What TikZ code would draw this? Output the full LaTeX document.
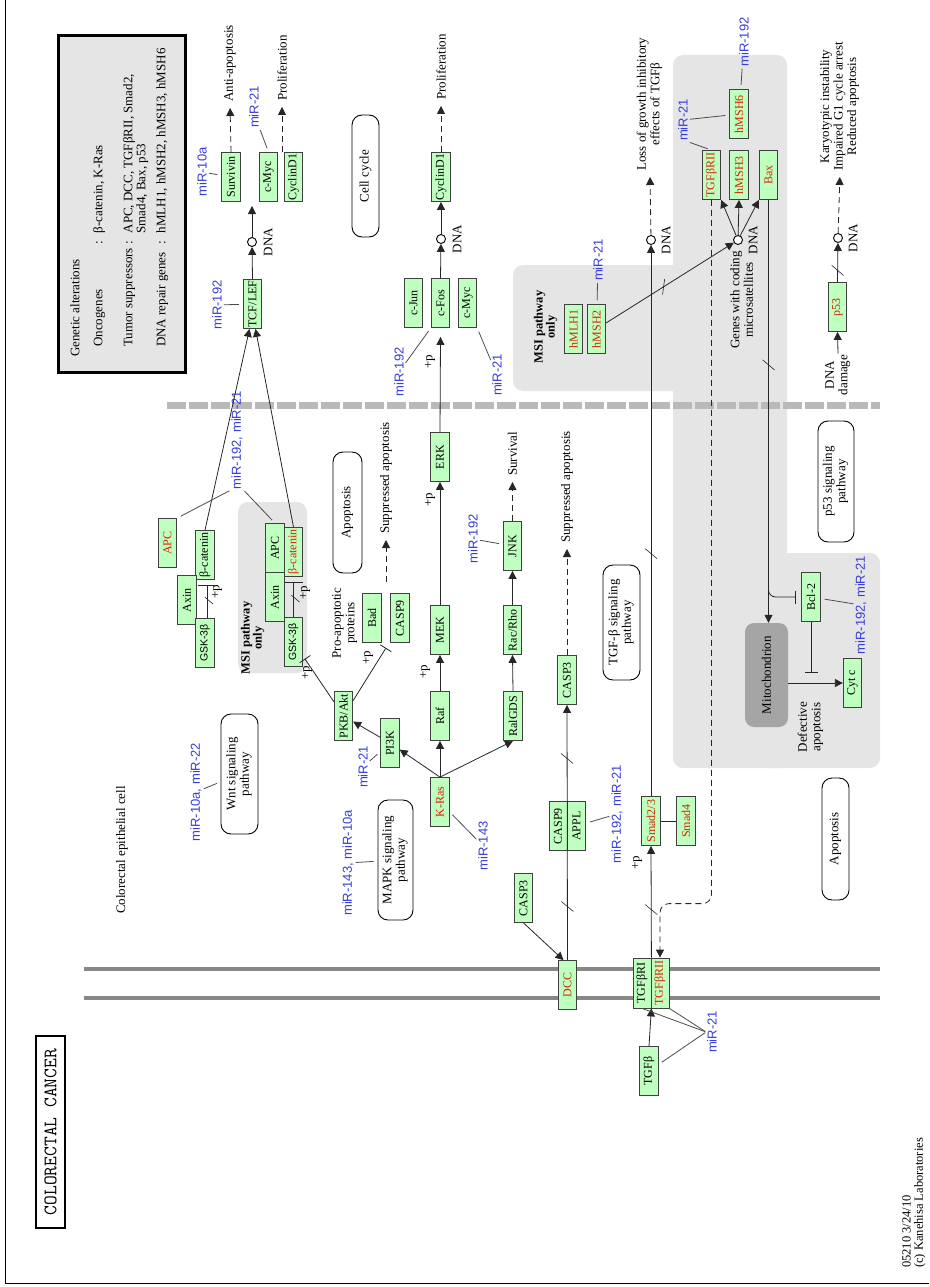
\documentclass[tikz,border=0pt]{standalone}
\usepackage{fontspec}
\setmainfont{Liberation Serif}
\setsansfont{Liberation Sans}
\usepackage{xcolor}
\usepackage{graphicx}
\usetikzlibrary{positioning,arrows.meta,calc,decorations.markings}

\definecolor{genegreen}{RGB}{191,255,191}
\definecolor{mirblue}{RGB}{55,60,215}
\definecolor{mutred}{RGB}{215,35,0}
\definecolor{msigray}{RGB}{229,229,229}
\definecolor{mitogray}{RGB}{165,165,165}
\definecolor{membgray}{RGB}{135,135,135}
\definecolor{nucgray}{RGB}{185,185,185}

\newcommand{\rt}[1]{\rotatebox{90}{#1}}
\newcommand{\rtc}[1]{\rotatebox{90}{\begin{tabular}{@{}c@{}}#1\end{tabular}}}

\tikzset{
  gene/.style={draw=black!75, line width=0.8pt, fill=genegreen, minimum width=18.5pt,
    minimum height=49pt, inner sep=0pt, font=\fontsize{12}{13}\selectfont},
  mut/.style={gene, text=mutred},
  gsk/.style={gene, font=\sffamily\fontsize{10.5}{12}\selectfont},
  map/.style={draw, line width=0.9pt, rounded corners=10pt, fill=white, inner sep=0pt,
    font=\fontsize{13}{13.5}\selectfont},
  lbl/.style={inner sep=1pt, font=\fontsize{13}{13.5}\selectfont},
  mir/.style={inner sep=1pt, text=mirblue, font=\sffamily\fontsize{13}{14}\selectfont},
  dna/.style={circle, draw, fill=white, line width=0.9pt, inner sep=0pt, minimum size=9pt},
  link/.style={draw=black!85, line width=0.8pt},
  act/.style={link, -{Triangle[length=8pt,width=8pt]}},
  indir/.style={act, dash pattern=on 6pt off 4pt, shorten >=5pt},
  inh/.style={link, -{Bar[width=13pt]}},
  mirline/.style={draw=black!70, line width=0.8pt, shorten <=1pt, shorten >=4pt},
  cut/.style={postaction={decorate, decoration={markings,
    mark=at position #1 with {\draw[solid, -, draw=black!85, line width=0.6pt] (-5pt,-6pt) -- (5pt,6pt);}}}}
}

\begin{document}
\begin{tikzpicture}[x=1pt, y=-1pt]
  \useasboundingbox (0,0) rectangle (929,1287);

  % Frame
  \draw[line width=1pt] (5,0) -- (5,1283) -- (929,1283);

  % MSI pathway regions
  \fill[msigray, rounded corners=10pt] (238,502) rectangle (307,673);
  \fill[msigray, rounded corners=10pt] (673,55) rectangle (787,768);
  \fill[msigray, rounded corners=10pt] (513,265) rectangle (700,391);
  \fill[msigray, rounded corners=10pt] (760,553) rectangle (880,768);

  % Nuclear envelope and plasma membrane
  \draw[nucgray, line width=7pt, dash pattern=on 19pt off 3pt] (167,405) -- (880,405);
  \draw[membgray, line width=4.5pt] (84,969) -- (880,969);
  \draw[membgray, line width=4.5pt] (84,998) -- (880,998);

  % Legend
  \draw[line width=3pt, fill=black!10] (58,36) rectangle (185,372);
  \node[lbl, anchor=south west, inner sep=0pt, font=\fontsize{13}{13}\selectfont] (legend) at (70,357) {\rotatebox{90}{%
    \begin{tabular}{@{\hspace{10pt}}l@{\hspace{3pt}}c@{\hspace{8pt}}l@{}}
      \multicolumn{3}{@{}l}{Genetic alterations}\\[10pt]
      Oncogenes & : & β-catenin, K-Ras\\[17pt]
      Tumor suppressors & : & APC, DCC, TGFβRII, Smad2,\\
       & & Smad4, Bax, p53\\[7pt]
      DNA repair genes & : & hMLH1, hMSH2, hMSH3, hMSH6
    \end{tabular}}};

  % Title and footer
  \node[draw, line width=2.5pt, minimum width=29pt, minimum height=192pt, inner sep=0pt,
    font=\ttfamily\fontsize{19}{20}\selectfont] (title) at (50.5,1132) {\rt{COLORECTAL CANCER}};
  \node[lbl, anchor=south west, inner sep=0pt, font=\fontsize{12.5}{12}\selectfont] (footer) at (902,1268)
    {\rotatebox{90}{\begin{tabular}{@{}l@{}}05210 3/24/10\\(c) Kanehisa Laboratories\end{tabular}}};
  \node[lbl] (cell) at (122,850) {\rt{Colorectal epithelial cell}};

  % Pathway maps
  \node[map, minimum width=27pt, minimum height=122pt] (cellcycle) at (365.5,176) {\rt{Cell cycle}};
  \node[map, minimum width=29pt, minimum height=121pt] (apopA) at (347.5,512.5) {\rt{Apoptosis}};
  \node[map, minimum width=37pt, minimum height=120pt] (wnt) at (239.5,774) {\rtc{Wnt signaling\\pathway}};
  \node[map, minimum width=35pt, minimum height=120pt] (mapk) at (395.5,860) {\rtc{MAPK signaling\\pathway}};
  \node[map, minimum width=37pt, minimum height=115pt] (tgfpath) at (621.5,622.5) {\rtc{TGF-β signaling\\pathway}};
  \node[map, minimum width=36pt, minimum height=121pt] (p53path) at (836,481.5) {\rtc{p53 signaling\\pathway}};
  \node[map, minimum width=27pt, minimum height=122pt] (apopB) at (835.5,839) {\rt{Apoptosis}};
  \node[fill=mitogray, rounded corners=9pt, minimum width=43pt, minimum height=104pt, inner sep=0pt,
    font=\fontsize{13}{13.5}\selectfont] (mito) at (766.5,675) {\rt{Mitochondrion}};

  % Wnt branch
  \node[gene] (survivin) at (231,177) {\rt{Survivin}};
  \node[gene] (cmyc) at (268.5,177) {\rt{c-Myc}};
  \node[gene] (cyclind) at (293.5,177) {\rt{CyclinD1}};
  \node[gene] (tcf) at (252.5,304) {\rt{TCF/LEF}};
  \node[mut]  (apcA) at (167.5,543) {\rt{APC}};
  \node[gene] (bcatA) at (205,555) {\rt{β-catenin}};
  \node[gene] (axinA) at (187,600) {\rt{Axin}};
  \node[gsk]  (gskA) at (205,643) {\rt{GSK-3β}};
  \node[gene] (apcB) at (275,548) {\rt{APC}};
  \node[mut]  (bcatB) at (293.5,552) {\rt{β-catenin}};
  \node[gene] (axinB) at (275,597) {\rt{Axin}};
  \node[gsk]  (gskB) at (293.5,642) {\rt{GSK-3β}};

  % PI3K and MAPK branch
  \node[gene] (pkb) at (343.5,716) {\rt{PKB/Akt}};
  \node[gene] (pi3k) at (390,743) {\rt{PI3K}};
  \node[gene] (bad) at (372,618) {\rt{Bad}};
  \node[gene] (casp9a) at (400,618) {\rt{CASP9}};
  \node[mut]  (kras) at (440,802) {\rt{K-Ras}};
  \node[gene] (raf) at (440,716) {\rt{Raf}};
  \node[gene] (mek) at (440,630) {\rt{MEK}};
  \node[gene] (erk) at (440,457) {\rt{ERK}};
  \node[gene] (cjun) at (413.5,303) {\rt{c-Jun}};
  \node[gene] (cfos) at (440.5,303) {\rt{c-Fos}};
  \node[gene] (cmycB) at (467.5,303) {\rt{c-Myc}};
  \node[gene] (cyclindB) at (441,177) {\rt{CyclinD1}};
  \node[gene] (ralgds) at (513,716) {\rt{RalGDS}};
  \node[gene] (racrho) at (512.5,630) {\rt{Rac/Rho}};
  \node[gene] (jnk) at (512.5,546) {\rt{JNK}};

  % DCC and TGF-beta branch
  \node[mut]  (dcc) at (567.5,985) {\rt{DCC}};
  \node[gene] (casp3b) at (523.5,898) {\rt{CASP3}};
  \node[gene, minimum width=18pt] (casp9b) at (558,826) {\rt{CASP9}};
  \node[gene] (appl) at (576.5,826) {\rt{APPL}};
  \node[gene] (casp3a) at (567,680) {\rt{CASP3}};
  \node[gene, minimum width=18pt, minimum height=50pt] (tgfbr1) at (642,983) {\rt{TGFβRI}};
  \node[mut, minimum width=18pt, minimum height=50pt] (tgfbr2) at (660,983) {\rt{TGFβRII}};
  \node[gene] (tgfb) at (649,1071) {\rt{TGFβ}};
  \node[mut]  (smad23) at (651,821) {\rt{Smad2/3}};
  \node[mut]  (smad4) at (686,821) {\rt{Smad4}};

  % MSI and p53 branch
  \node[mut]  (hmlh1) at (573.5,329) {\rt{hMLH1}};
  \node[mut]  (hmsh2) at (596.5,329) {\rt{hMSH2}};
  \node[mut]  (tgfbr2m) at (711.5,175) {\rt{TGFβRII}};
  \node[mut]  (hmsh3) at (739,175) {\rt{hMSH3}};
  \node[mut]  (bax) at (768.5,175) {\rt{Bax}};
  \node[mut]  (hmsh6) at (739,114) {\rt{hMSH6}};
  \node[gene] (bcl2) at (811,597) {\rt{Bcl-2}};
  \node[gene] (cytc) at (852.5,683) {\rt{Cyt c}};
  \node[mut]  (p53) at (837.5,307) {\rt{p53}};

  % DNA sites
  \node[dna] (dnaA) at (252,242) {};
  \node[dna] (dnaB) at (441,239) {};
  \node[dna] (dnaC) at (651,240) {};
  \node[dna] (dnaD) at (738,240) {};
  \node[dna] (dnaE) at (838,238) {};
  \node[lbl] (dnalA) at (268,242) {\rt{DNA}};
  \node[lbl] (dnalB) at (457,239) {\rt{DNA}};
  \node[lbl] (dnalC) at (666,240) {\rt{DNA}};
  \node[lbl] (dnalD) at (753,240) {\rt{DNA}};
  \node[lbl] (dnalE) at (853,238) {\rt{DNA}};
  \coordinate (tcftgt) at (252,206);

  % Outcomes and notes
  \node[lbl, anchor=south] (antiapop) at (230,103) {\rt{Anti-apoptosis}};
  \node[lbl, anchor=south] (prolifA) at (282,102) {\rt{Proliferation}};
  \node[lbl, anchor=south] (prolifB) at (441,101) {\rt{Proliferation}};
  \node[lbl, anchor=south] (suppA) at (386,535) {\rt{Suppressed apoptosis}};
  \node[lbl, anchor=south] (survival) at (512.5,477) {\rt{Survival}};
  \node[lbl, anchor=south] (suppB) at (567,544) {\rt{Suppressed apoptosis}};
  \node[lbl, anchor=south] (loss) at (650,172) {\rtc{Loss of growth inhibitory\\effects of TGFβ}};
  \node[lbl, anchor=south] (kary) at (840,172) {\rtc{Karyotypic instability\\Impaired G1 cycle arrest\\Reduced apoptosis}};
  \node[lbl] (genes) at (743.5,300) {\rtc{Genes with coding\\microsatellites}};
  \node[lbl] (proapop) at (345,623) {\rtc{Pro-apoptotic\\proteins}};
  \node[lbl] (defect) at (811,727) {\rtc{Defective\\apoptosis}};
  \node[lbl] (dnadmg) at (838,375) {\rtc{DNA\\damage}};
  \node[lbl, font=\bfseries\fontsize{12.5}{11}\selectfont] (msiA) at (253,638) {\rtc{MSI pathway\\only}};
  \node[lbl, font=\bfseries\fontsize{12.5}{11}\selectfont] (msiB) at (546,327) {\rtc{MSI pathway\\only}};

  % Phosphorylation marks
  \node[lbl, inner sep=0pt] (phA) at (217,592) {\rt{+p}};
  \node[lbl, inner sep=0pt] (phB) at (305,593) {\rt{+p}};
  \node[lbl, inner sep=0pt] (phC) at (307,673) {\rt{+p}};
  \node[lbl, inner sep=0pt] (phD) at (368,658) {\rt{+p}};
  \node[lbl, inner sep=0pt] (phE) at (425,672) {\rt{+p}};
  \node[lbl, inner sep=0pt] (phF) at (430,500) {\rt{+p}};
  \node[lbl, inner sep=0pt] (phG) at (430,362) {\rt{+p}};
  \node[lbl, inner sep=0pt] (phH) at (637,863) {\rt{+p}};

  % miRNAs
  \node[mir] (m10a) at (202,172) {\rt{miR-10a}};
  \node[mir] (m21a) at (254,107) {\rt{miR-21}};
  \node[mir] (m192a) at (217,305) {\rt{miR-192}};
  \node[mir] (m19221a) at (237,440) {\rt{miR-192, miR-21}};
  \node[mir] (m1022) at (196,792) {\rt{miR-10a, miR-22}};
  \node[mir] (m21b) at (363,767) {\rt{miR-21}};
  \node[mir] (m14310a) at (348,863) {\rt{miR-143, miR-10a}};
  \node[mir] (m143) at (483,846) {\rt{miR-143}};
  \node[mir] (m192b) at (399,372) {\rt{miR-192}};
  \node[mir] (m21c) at (497,375) {\rt{miR-21}};
  \node[mir] (m192c) at (473,539) {\rt{miR-192}};
  \node[mir] (m19221b) at (617,814) {\rt{miR-192, miR-21}};
  \node[mir] (m21d) at (598,260) {\rt{miR-21}};
  \node[mir] (m21e) at (683,120) {\rt{miR-21}};
  \node[mir] (m192d) at (744,42) {\rt{miR-192}};
  \node[mir] (m19221c) at (861,605) {\rt{miR-192, miR-21}};
  \node[mir] (m21f) at (712,1032) {\rt{miR-21}};

  % Wnt signaling
  \draw[act] (tcf.north) -- (dnaA);
  \draw[act] (dnaA) -- (tcftgt);
  \draw[indir] (survivin.north) -- (antiapop.south);
  \draw[indir] (prolifA.south |- cmyc.north) -- (prolifA.south);
  \draw[act] (bcatA.north) -- ([xshift=-3pt]tcf.south);
  \draw[act] (bcatB.north) -- ([xshift=3pt]tcf.south);
  \draw[inh, -{Bar[width=18pt]}, shorten >=5pt, cut=0.5] ([xshift=2pt]gskA.north) -- ([xshift=2pt]bcatA.south);
  \draw[inh, -{Bar[width=18pt]}, shorten >=5pt, cut=0.5] (gskB.north) -- (bcatB.south);
  \draw[inh, shorten >=3pt] (pkb) -- (gskB);

  % PI3K-Akt
  \draw[act] (kras.north) -- (pi3k);
  \draw[act] (pi3k) -- (pkb);
  \draw[inh] (pkb) -- ($(bad.south)!0.5!(casp9a.south)+(0,5)$);
  \draw[indir, shorten <=11pt] ($(bad.north)!0.5!(casp9a.north)$) -- (suppA.south);

  % MAPK signaling
  \draw[act] (kras.north) -- (raf.south);
  \draw[act] (raf.north) -- (mek.south);
  \draw[act] (mek.north) -- (erk.south);
  \draw[act] (erk.north) -- ($(cfos.south)+(0,9)$);
  \draw[act] (cfos.north) -- (dnaB);
  \draw[act] (dnaB) -- (cyclindB.south);
  \draw[indir] (cyclindB.north) -- (prolifB.south);
  \draw[act] (kras.north) -- (ralgds.south);
  \draw[act] (ralgds.north) -- (racrho.south);
  \draw[act] (racrho.north) -- (jnk.south);
  \draw[indir] (jnk.north) -- (survival.south);

  % DCC
  \draw[act] (casp3b.south) -- ($(dcc.north)+(-4,0)$);
  \draw[act, cut=0.21, cut=0.79] (dcc.north) -- (casp3a.south);
  \draw[indir] (casp3a.north) -- (suppB.south);

  % TGF-beta signaling
  \draw[act] (tgfb.north) -- (tgfbr1.south east);
  \draw[act, cut=0.43] (tgfbr1.north east) -- (smad23.south);
  \draw[link] (smad23) -- (smad4);
  \draw[act, cut=0.44] (smad23.north) -- (dnaC);
  \draw[indir] (dnaC) -- (loss.south);
  \draw[indir, shorten >=0pt, rounded corners=9pt] (tgfbr2m.south) |- ($(tgfbr2.north)+(0,-54)$) -- (tgfbr2.north);

  % MSI pathway
  \draw[act, cut=0.45] (hmsh2) -- (dnaD);
  \draw[act] (dnaD) -- (tgfbr2m.south east);
  \draw[act] (dnaD) -- (hmsh3.south);
  \draw[act] (dnaD) -- (bax.south west);
  \draw[act, cut=0.39] (bax.south) -- (bax.south |- mito.north);
  \draw[inh, rounded corners=7pt, shorten >=6pt] (bax.south |- bcl2.north) |- (bcl2.west);
  \draw[inh, shorten >=10pt] (bcl2.south) -- (bcl2.south |- cytc.west);
  \draw[act] (mito.east |- cytc.west) -- (cytc.west);

  % p53
  \draw[act] (dnadmg.north) -- (p53.south);
  \draw[act, cut=0.3] (p53.north) -- (dnaE);
  \draw[indir] (dnaE) -- (kary.south);

  % miRNA targets
  \draw[mirline] (m10a) -- (survivin);
  \draw[mirline] (m21a.south east) -- (cmyc.north);
  \draw[mirline] (m192a) -- (tcf);
  \draw[mirline] (m19221a.south west) -- (apcA.north east);
  \draw[mirline] (m19221a.south east) -- (apcB.north);
  \draw[mirline] (m1022) -- (wnt);
  \draw[mirline] (m21b) -- (pi3k);
  \draw[mirline] (m14310a) -- (mapk);
  \draw[mirline] (m143) -- (kras);
  \draw[mirline] (m192b) -- (cfos.south west);
  \draw[mirline] (m21c) -- (cmycB.south east);
  \draw[mirline] (m192c) -- (jnk);
  \draw[mirline] (m19221b) -- (appl);
  \draw[mirline] (m21d) -- (hmsh2);
  \draw[mirline] (m21e) -- (hmsh6);
  \draw[mirline] (m21e.south east) -- (tgfbr2m.north);
  \draw[mirline] (m192d) -- (hmsh6);
  \draw[mirline] (m19221c) -- (bcl2);
  \draw[mirline, shorten >=0pt] (m21f.west) -- (tgfbr1.south);
  \draw[mirline, shorten >=0pt] (m21f.west) -- (tgfbr2.south east);
  \draw[mirline] (m21f.west) -- (tgfb);
\end{tikzpicture}
\end{document}
